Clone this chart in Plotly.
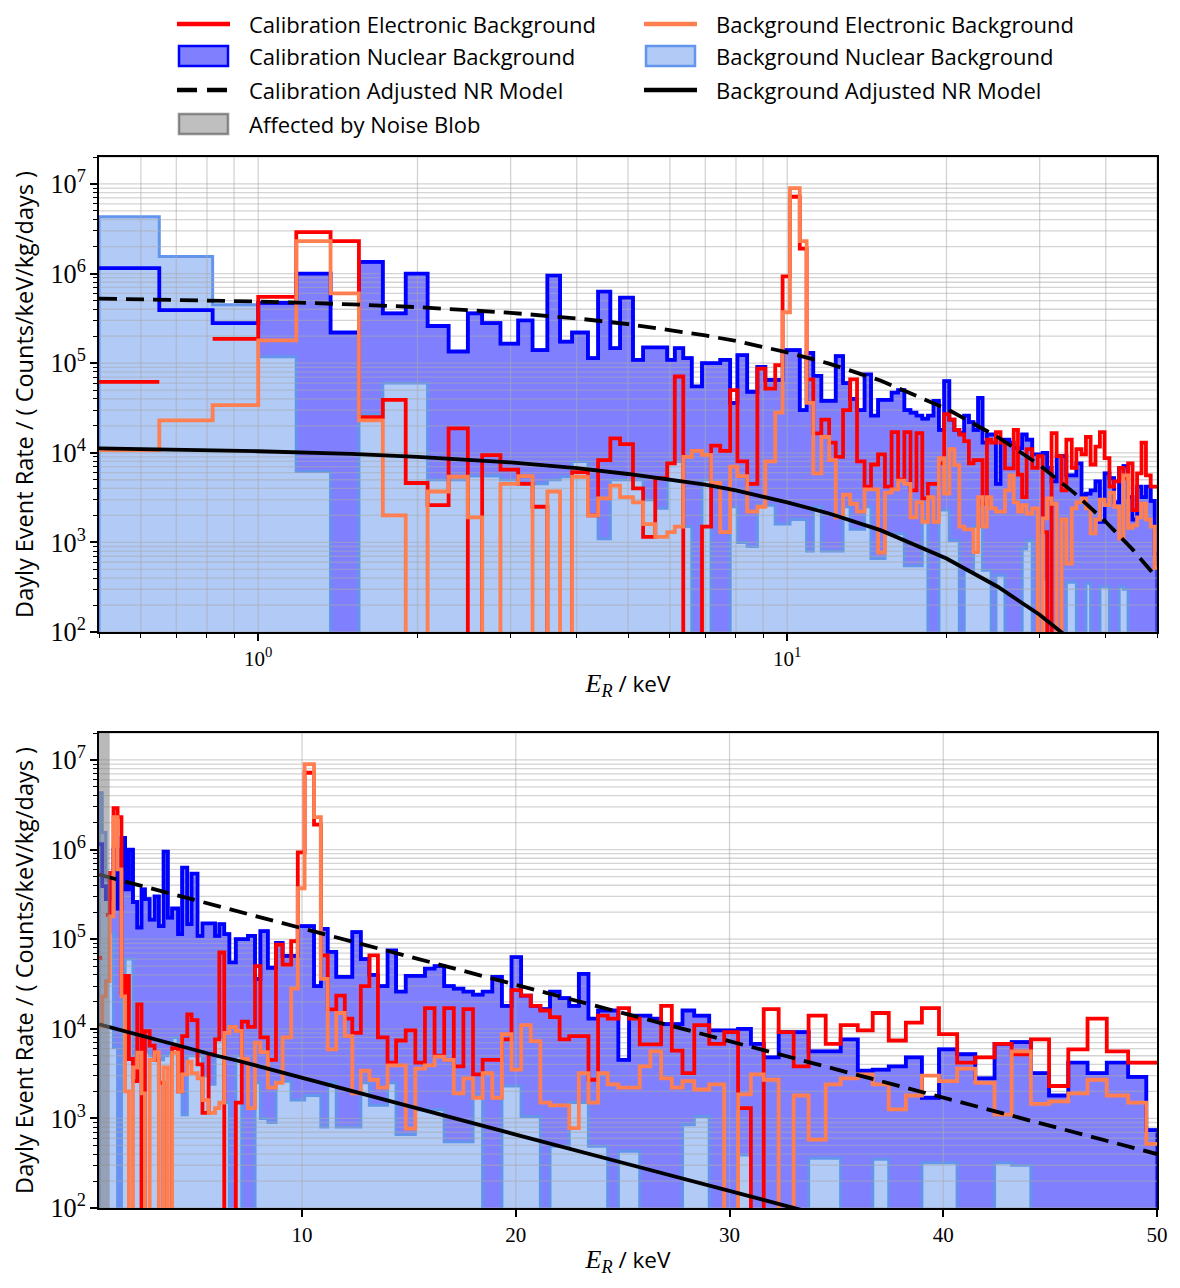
import math
import plotly.graph_objects as go

# ---------------- data ----------------
# common bin edges (keV) of all histograms
EDGES = [0.5, 0.65, 0.82, 1.0, 1.18, 1.37, 1.55, 1.72, 1.9, 2.09, 2.29, 2.49, 2.65, 2.87,
         3.1, 3.3, 3.52, 3.72, 3.92, 4.2, 4.39, 4.63, 4.83, 5.11, 5.34, 5.63, 5.93, 6.13,
         6.36, 6.6, 6.9, 7.18, 7.47, 7.8, 8.05, 8.4, 8.78, 9.09, 9.49, 9.8, 10.12, 10.56,
         10.88, 11.2, 11.6, 12.0, 12.35, 12.75, 13.15, 13.55, 14.0, 14.4, 14.85, 15.3,
         15.75, 16.2, 16.65, 17.1, 17.55, 18.0, 18.45, 18.9, 19.35, 19.8, 20.25, 20.7,
         21.15, 21.6, 22.05, 22.5, 22.95, 23.4, 23.85, 24.3, 24.8, 25.3, 25.8, 26.3, 26.8,
         27.3, 27.8, 28.35, 29.05, 29.75, 30.4, 31.0, 31.6, 32.3, 33.0, 33.7, 34.5, 35.2,
         36.0, 36.7, 37.45, 38.25, 39.0, 39.8, 40.65, 41.5, 42.4, 43.2, 44.1, 44.95, 45.85,
         46.75, 47.65, 48.65, 49.5, 50.0]

CAL_NUCLEAR = [1.15e6, 3.9e5, 2.8e5, 4.7e5, 1.0e6, 2.2e5, 1.35e6, 3.6e5, 1.0e6, 2.6e5,
               1.35e5, 3.6e5, 2.8e5, 1.65e5, 3.0e5, 1.4e5, 9.5e5, 1.74e5, 2.2e5, 1.14e5,
               6.3e5, 1.47e5, 5.4e5, 1.09e5, 1.5e5, 1.5e5, 1.09e5, 1.47e5, 1.14e5, 5.5e4,
               1.0e5, 1.0e5, 1.09e5, 3.6e4, 1.23e5, 4.8e4, 9.1e4, 6.5e4, 6.5e4, 1.4e5,
               1.4e5, 3.0e4, 1.3e5, 7.2e4, 3.8e4, 3.8e4, 1.2e5, 6.0e4, 4.0e4, 3.0e4,
               7.5e4, 2.6e4, 3.9e4, 3.9e4, 4.7e4, 5.0e4, 3.0e4, 2.8e4, 2.6e4, 2.4e4,
               2.6e4, 3.8e4, 1.8e4, 6.3e4, 2.35e4, 1.8e4, 1.66e4, 2.6e4, 2.2e4, 1.8e4,
               4.1e4, 1.3e4, 1.6e4, 1.6e4, 4.5e3, 1.4e4, 1.4e4, 1.3e4, 1.13e4, 1.13e4,
               1.6e4, 1.4e4, 9.6e3, 9.6e3, 1.0e4, 6.8e3, 4.8e3, 9.2e3, 9.2e3, 5.6e3,
               5.6e3, 7.6e3, 3.4e3, 3.5e3, 3.8e3, 4.8e3, 1.7e3, 5.9e3, 5.2e3, 2.8e3,
               6.8e3, 7.1e3, 3.2e3, 1.8e3, 4.2e3, 3.2e3, 4.2e3, 2.9e3, 7.4e2]

BKG_NUCLEAR = [4.3e6, 1.55e6, 4.5e5, 1.18e5, 6.2e3, 0, 2.7e4, 6.0e4, 6.0e4, 5.0e3,
               5.0e3, 5.5e3, 5.5e3, 5.0e3, 4.5e3, 4.5e3, 5.0e3, 5.4e3, 8.0e3, 2.0e3,
               1.1e3, 5.0e3, 5.0e3, 5.0e3, 3.0e3, 2.4e3, 8.0e3, 8.0e3, 1.5e3, 0,
               5.0e3, 0, 0, 2.5e3, 1.0e3, 9.0e2, 2.6e3, 2.6e3, 1.6e3, 1.6e3,
               1.8e3, 1.8e3, 8.0e2, 2.5e3, 8.0e2, 8.0e2, 8.0e2, 2.5e3, 1.4e3, 1.4e3,
               2.5e3, 6.6e2, 6.6e2, 1.25e3, 1.25e3, 1.25e3, 5.5e2, 5.5e2, 5.5e2, 1.8e3,
               0, 0, 2.3e3, 2.3e3, 1.05e3, 1.05e3, 0, 4.9e2, 4.9e2, 1.5e3,
               1.5e3, 4.9e2, 4.9e2, 0, 4.3e2, 4.3e2, 0, 0, 0, 0,
               8.5e2, 1.05e3, 0, 0, 3.9e2, 0, 0, 0, 0, 3.6e2,
               3.6e2, 0, 0, 3.5e2, 0, 0, 3.2e2, 3.2e2, 0, 0,
               3.2e2, 3.0e2, 0, 0, 0, 0, 0, 0, 0]

# None = no entry in that bin (line interrupted)
CAL_ELECTRONIC = [6.2e4, None, 1.87e5, 5.5e5, 2.9e6, 2.3e6, 2.5e4, 3.9e4, 4.6e3, 2.6e3,
                  1.87e4, 0, 9.4e3, 6.5e3, 4.5e3, 2.5e3, 0, 0, 6.1e3, 2.0e3,
                  8.3e3, 1.45e4, 1.25e4, 4.0e3, 1.15e3, 5.2e3, 7.6e3, 7.1e4, 0, 0,
                  1.5e3, 1.2e4, 1.05e4, 5.0e4, 8.0e3, 4.5e3, 8.7e4, 5.2e4, 9.5e4, 9.3e5,
                  7.2e6, 1.9e6, 6.6e4, 1.65e4, 2.35e4, 1.3e4, 9.0e3, 3.0e4, 6.6e4, 8.0e3,
                  4.2e3, 7.4e3, 9.6e3, 4.2e3, 1.7e4, 5.0e3, 1.7e4, 3.8e3, 1.66e4, 3.1e3,
                  4.5e3, 4.5e3, 7.6e3, 2.7e4, 2.35e4, 1.8e4, 1.6e4, 1.35e4, 7.6e3, 8.3e3,
                  8.3e3, 2.7e3, 1.4e4, 1.3e4, 1.7e4, 1.3e4, 6.7e3, 6.7e3, 1.8e4, 5.7e3,
                  3.2e3, 1.1e4, 6.8e3, 9.2e3, 1.3e3, 0, 1.66e4, 9.2e3, 3.8e3, 1.4e4,
                  6.8e3, 1.1e4, 9.6e3, 1.5e4, 7.4e3, 1.17e4, 1.7e4, 8.7e3, 4.2e3, 4.8e3,
                  6.8e3, 5.2e3, 7.6e3, 2.3e3, 5.9e3, 1.3e4, 5.6e3, 4.2e3, 4.2e3]

BKG_ELECTRONIC = [1.07e4, 2.3e4, 3.4e4, 1.8e5, 2.3e6, 6.0e5, 2.3e4, 2.0e3, 0, 3.7e3,
                  5.4e3, 1.9e3, 0, 4.5e3, 5.5e3, 0, 3.7e3, 0, 5.4e3, 2.0e3,
                  3.1e3, 4.3e3, 3.2e3, 2.8e3, 1.6e3, 1.15e3, 1.3e3, 1.5e3, 9.0e3, 1.05e4,
                  9.5e3, 4.6e3, 1.3e3, 7.0e3, 5.5e3, 2.2e3, 2.5e3, 8.0e3, 2.8e4, 3.7e5,
                  9.0e6, 2.3e6, 3.6e4, 5.9e3, 1.5e4, 8.3e3, 1.9e3, 3.4e3, 2.7e3, 2.2e3,
                  3.9e3, 3.9e3, 7.7e2, 3.6e3, 3.9e3, 4.9e3, 4.5e3, 1.9e3, 2.8e3, 1.7e3,
                  3.2e3, 1.7e3, 8.7e3, 3.5e3, 1.1e4, 7.3e3, 1.5e3, 1.4e3, 1.4e3, 7.8e2,
                  3.2e3, 1.5e3, 3.2e3, 2.4e3, 2.2e3, 2.2e3, 3.8e3, 5.6e3, 2.8e3, 2.2e3,
                  2.6e3, 2.1e3, 2.4e3, 0, 1.85e3, 3.1e3, 2.7e3, 0, 1.8e3, 5.8e2,
                  2.4e3, 2.8e3, 3.1e3, 2.4e3, 1.26e3, 1.8e3, 3.0e3, 2.6e3, 3.6e3, 2.5e3,
                  1.1e3, 5.6e3, 1.45e3, 1.55e3, 1.9e3, 2.7e3, 1.8e3, 1.5e3, 5.2e2]

# adjusted NR models
MODEL_E = [0.5, 1, 1.5, 2, 3, 4, 5, 6, 7, 8, 10, 12, 15, 20, 25, 30, 35, 40, 45, 50]
CAL_MODEL = [5.25e5, 4.88e5, 4.54e5, 4.22e5, 3.65e5, 3.16e5, 2.73e5, 2.36e5, 2.04e5,
             1.77e5, 1.32e5, 9.9e4, 6.4e4, 3.1e4, 1.5e4, 7.3e3, 3.5e3, 1.7e3, 8.3e2, 4.0e2]
BKG_MODEL = [1.12e4, 1.04e4, 9.7e3, 9.0e3, 7.8e3, 6.75e3, 5.8e3, 5.0e3, 4.4e3, 3.8e3,
             2.8e3, 2.1e3, 1.37e3, 6.6e2, 3.2e2, 1.56e2, 75, 36, 18, 8.5]

NOISE_BLOB = [0.5, 1.0]   # keV range affected by the noise blob

TOP_TICKS = [1, 10]
TOP_TICKTEXT = ["10<sup>0</sup>", "10<sup>1</sup>"]

LEGEND_LABELS = ["Calibration Electronic Background", "Background Electronic Background",
                 "Calibration Nuclear Background", "Background Nuclear Background",
                 "Calibration Adjusted NR Model", "Background Adjusted NR Model",
                 "Affected by Noise Blob"]

assert len(EDGES) == len(CAL_NUCLEAR) + 1 == len(BKG_NUCLEAR) + 1
assert len(CAL_ELECTRONIC) == len(BKG_ELECTRONIC) == len(CAL_NUCLEAR)

# ---------------- style ----------------
OFF = 8                       # default page margin of the html body
W, H = 1164, 1272
ML, MR, MT, MB = 91, 15, 149, 72
FLOOR = 1.0
RED = "#FF0000"
CORAL = "#FF7F50"
BLUE = "#0000FF"
PURPLE = "#8080FF"
LIGHT = "#B1CAF6"
CORNFLOWER = "#6495ED"
NOISE_FILL = "rgba(128,128,128,0.5)"
NOISE_EDGE = "rgba(100,100,100,0.7)"
GRID = "rgba(170,170,170,0.5)"
SANS = "Open Sans"
SERIF = "Liberation Serif"
LW = 3.8
DASH = "18px,9px"


def step_xy(edges, vals):
    xs, ys = [], []
    for i, v in enumerate(vals):
        if v is None:
            xs.append(None)
            ys.append(None)
            continue
        y = v if v > 0 else FLOOR
        xs += [edges[i], edges[i + 1]]
        ys += [y, y]
    return xs, ys


def fill_xy(edges, vals):
    xs, ys = step_xy(edges, vals)
    return [edges[0]] + xs + [edges[-1]], [FLOOR] + ys + [FLOOR]


fig = go.Figure()
for xa, ya, top in [("x", "y", True), ("x2", "y2", False)]:
    fx, fy = fill_xy(EDGES, CAL_NUCLEAR)
    fig.add_trace(go.Scatter(x=fx, y=fy, xaxis=xa, yaxis=ya, mode="lines", fill="toself",
                             fillcolor=PURPLE, line=dict(color=BLUE, width=3),
                             name="Calibration Nuclear Background", hoverinfo="skip"))
    fx, fy = fill_xy(EDGES, BKG_NUCLEAR)
    fig.add_trace(go.Scatter(x=fx, y=fy, xaxis=xa, yaxis=ya, mode="lines", fill="toself",
                             fillcolor=LIGHT, line=dict(color=CORNFLOWER, width=3),
                             name="Background Nuclear Background", hoverinfo="skip"))
    # grid lines: above the filled patches, below the lines
    xlo, xhi = EDGES[0], EDGES[-1]
    if top:
        vx = [d * 10 ** k for k in range(-1, 2) for d in range(1, 10)]
        vx = [v for v in vx if xlo < v <= xhi + 1e-9]
    else:
        vx = [10, 20, 30, 40]
    gx, gy = [], []
    for v in vx:
        gx += [v, v, None]
        gy += [1e2, 3e7, None]
    for k in range(2, 8):
        for d in range(1, 10):
            v = d * 10 ** k
            if v <= 2.0e7:
                gx += [xlo, xhi, None]
                gy += [v, v, None]
    fig.add_trace(go.Scatter(x=gx, y=gy, xaxis=xa, yaxis=ya, mode="lines",
                             line=dict(color=GRID, width=1.3), name="grid",
                             hoverinfo="skip"))
    sx, sy = step_xy(EDGES, CAL_NUCLEAR)
    fig.add_trace(go.Scatter(x=sx, y=sy, xaxis=xa, yaxis=ya, mode="lines",
                             line=dict(color=BLUE, width=LW),
                             name="Calibration Nuclear Background", hoverinfo="skip"))
    sx, sy = step_xy(EDGES, CAL_ELECTRONIC)
    fig.add_trace(go.Scatter(x=sx, y=sy, xaxis=xa, yaxis=ya, mode="lines",
                             line=dict(color=RED, width=LW),
                             name="Calibration Electronic Background", hoverinfo="skip"))
    sx, sy = step_xy(EDGES, BKG_ELECTRONIC)
    fig.add_trace(go.Scatter(x=sx, y=sy, xaxis=xa, yaxis=ya, mode="lines",
                             line=dict(color=CORAL, width=LW),
                             name="Background Electronic Background", hoverinfo="skip"))
    fig.add_trace(go.Scatter(x=MODEL_E, y=CAL_MODEL, xaxis=xa, yaxis=ya, mode="lines",
                             line=dict(color="black", width=3.8, dash=DASH),
                             name="Calibration Adjusted NR Model", hoverinfo="skip"))
    fig.add_trace(go.Scatter(x=MODEL_E, y=BKG_MODEL, xaxis=xa, yaxis=ya, mode="lines",
                             line=dict(color="black", width=3.8),
                             name="Background Adjusted NR Model", hoverinfo="skip"))

shapes = [dict(type="rect", xref="x2", yref="y2 domain", x0=NOISE_BLOB[0],
               x1=NOISE_BLOB[1], y0=0, y1=1, fillcolor="rgba(128,128,128,0.55)",
               line=dict(width=0), layer="above")]
annotations = []


# ---------------- manual legend (screen pixel layout -> paper coordinates) ----------------
def px(xp):
    return (xp - OFF - ML) / (W - ML - MR)


def py(yp):
    return (H - MB - (yp - OFF)) / (H - MT - MB)


rows = [24, 56, 90, 124]
cols = [(177, 230, 248), (644, 697, 715)]
legend_items = [
    ("line", RED, None), ("line", CORAL, None),
    ("box", PURPLE, BLUE), ("box", LIGHT, CORNFLOWER),
    ("dash", "black", None), ("line", "black", None),
    ("box", NOISE_FILL, NOISE_EDGE),
]
for i, (label, (kind, c1, c2)) in enumerate(zip(LEGEND_LABELS, legend_items)):
    r, c = rows[i // 2], cols[i % 2]
    if kind == "box":
        shapes.append(dict(type="rect", xref="paper", yref="paper",
                           x0=px(c[0] + 2), x1=px(c[1] - 2), y0=py(r - 10), y1=py(r + 10),
                           fillcolor=c1, line=dict(color=c2, width=2.5), layer="above"))
    else:
        shapes.append(dict(type="line", xref="paper", yref="paper",
                           x0=px(c[0]), x1=px(c[1]), y0=py(r), y1=py(r),
                           line=dict(color=c1, width=4.5,
                                     dash=("20px,10px" if kind == "dash" else "solid")),
                           layer="above"))
    annotations.append(dict(xref="paper", yref="paper", x=px(c[2]), y=py(r),
                            xanchor="left", yanchor="middle", showarrow=False,
                            borderpad=0,
                            text=label, font=dict(family=SANS, size=22, color="black")))

axis_common = dict(showline=True, mirror=True, linecolor="black", linewidth=1.8,
                   ticks="outside", ticklen=7, tickwidth=1.6, tickcolor="black",
                   showgrid=False, zeroline=False, automargin=False,
                   tickfont=dict(family=SERIF, size=21, color="black"))
minor = dict(ticks="outside", ticklen=4, tickwidth=1.2, tickcolor="black", dtick="D1",
             showgrid=False)
ylog = dict(type="log", range=[2, math.log10(2.0e7)], dtick=1, exponentformat="power",
            minor=minor,
            title=dict(text="Dayly Event Rate / ( Counts/keV/kg/days )",
                       font=dict(family=SANS, size=23.5, color="black"), standoff=10),
            **axis_common)
xtitle = ('<span style="font-family:Liberation Serif;font-size:26px"><i>E</i>'
          '<sub><i>R</i></sub></span> / keV')
xtitle_font = dict(family=SANS, size=22.5, color="black")

TOP_H = 475 / (H - MT - MB)
fig.update_layout(
    width=W, height=H,
    margin=dict(l=ML, r=MR, t=MT, b=MB),
    paper_bgcolor="white", plot_bgcolor="white",
    showlegend=False,
    xaxis=dict(domain=[0, 1], anchor="y", type="log",
               range=[math.log10(0.5), math.log10(50)],
               tickvals=TOP_TICKS, ticktext=TOP_TICKTEXT, minor=minor,
               title=dict(text=xtitle, font=xtitle_font, standoff=6),
               **axis_common),
    yaxis=dict(domain=[1 - TOP_H, 1], anchor="x", **ylog),
    xaxis2=dict(domain=[0, 1], anchor="y2", type="linear", range=[0.5, 50], dtick=10,
                tick0=0, title=dict(text=xtitle, font=xtitle_font, standoff=6),
                **axis_common),
    yaxis2=dict(domain=[0, TOP_H], anchor="x2", **ylog),
    shapes=shapes,
    annotations=annotations,
)

fig.write_html("out.html")
